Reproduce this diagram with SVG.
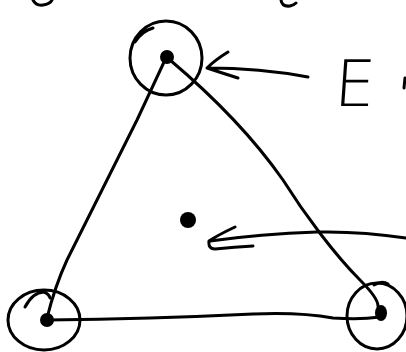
<svg xmlns="http://www.w3.org/2000/svg" width="406" height="352" viewBox="0 0 406 352">
<style>
.s{fill:none;stroke:#000;stroke-width:3;stroke-linecap:round;stroke-linejoin:round}
.d{fill:#000}
.t{font-family:"DejaVu Sans","Liberation Sans",Arial,sans-serif;font-weight:200;font-size:64px;fill:#000}
</style>
<rect width="406" height="352" fill="#fff"/>
<g id="fragments">
<path class="s" d="M33,0 Q36,6 43,5 Q50,4 52,0"/>
<path class="s" d="M281,0 Q282,7 290,6 Q294,5 296,3"/>
<path class="s" d="M405,78 L404,88"/>
</g>
<g id="connectors">
<path class="s" d="M165,60 L137,120 L67,260 Q55,286 47,318"/>
<path class="s" d="M170,60 C215,98 255,140 283,180 C305,215 335,255 360,280 Q378,298 378,306"/>
<path class="s" d="M47,320 Q150,319 253,314 Q300,312 333,318 Q360,320 380,317"/>
<path class="s" d="M308,77 Q260,68 207,68 M228,52 Q215,60 207,68 Q222,73 238,78"/>
<path class="s" d="M406,238 Q360,231 317,232 Q260,234 210,241 M235,227 Q218,235 209,241 Q208,249 215,249 Q235,247 253,246"/>
</g>
<g id="node-top">
<ellipse class="s" cx="166" cy="58" rx="36" ry="37"/>
<path class="s" d="M135,42 Q142,31 153,28"/>
<circle class="d" cx="167" cy="57" r="7"/>
</g>
<g id="node-bottom-left">
<ellipse class="s" cx="44" cy="320" rx="36" ry="30"/>
<path class="s" d="M25,307 Q33,292 44,292 Q49,294 50,298"/>
<circle class="d" cx="47" cy="320" r="7"/>
</g>
<g id="node-bottom-right">
<ellipse class="s" cx="377" cy="316" rx="30" ry="33"/>
<path class="s" d="M374,285 Q382,280 388,284"/>
<ellipse class="d" cx="381" cy="313" rx="6" ry="8"/>
</g>
<g id="node-center">
<circle class="d" cx="188" cy="220" r="8"/>
</g>
<g id="label">
<text class="t" x="335" y="106" transform="skewX(-4)" style="transform-origin:355px 82px">E</text>
</g>
</svg>
